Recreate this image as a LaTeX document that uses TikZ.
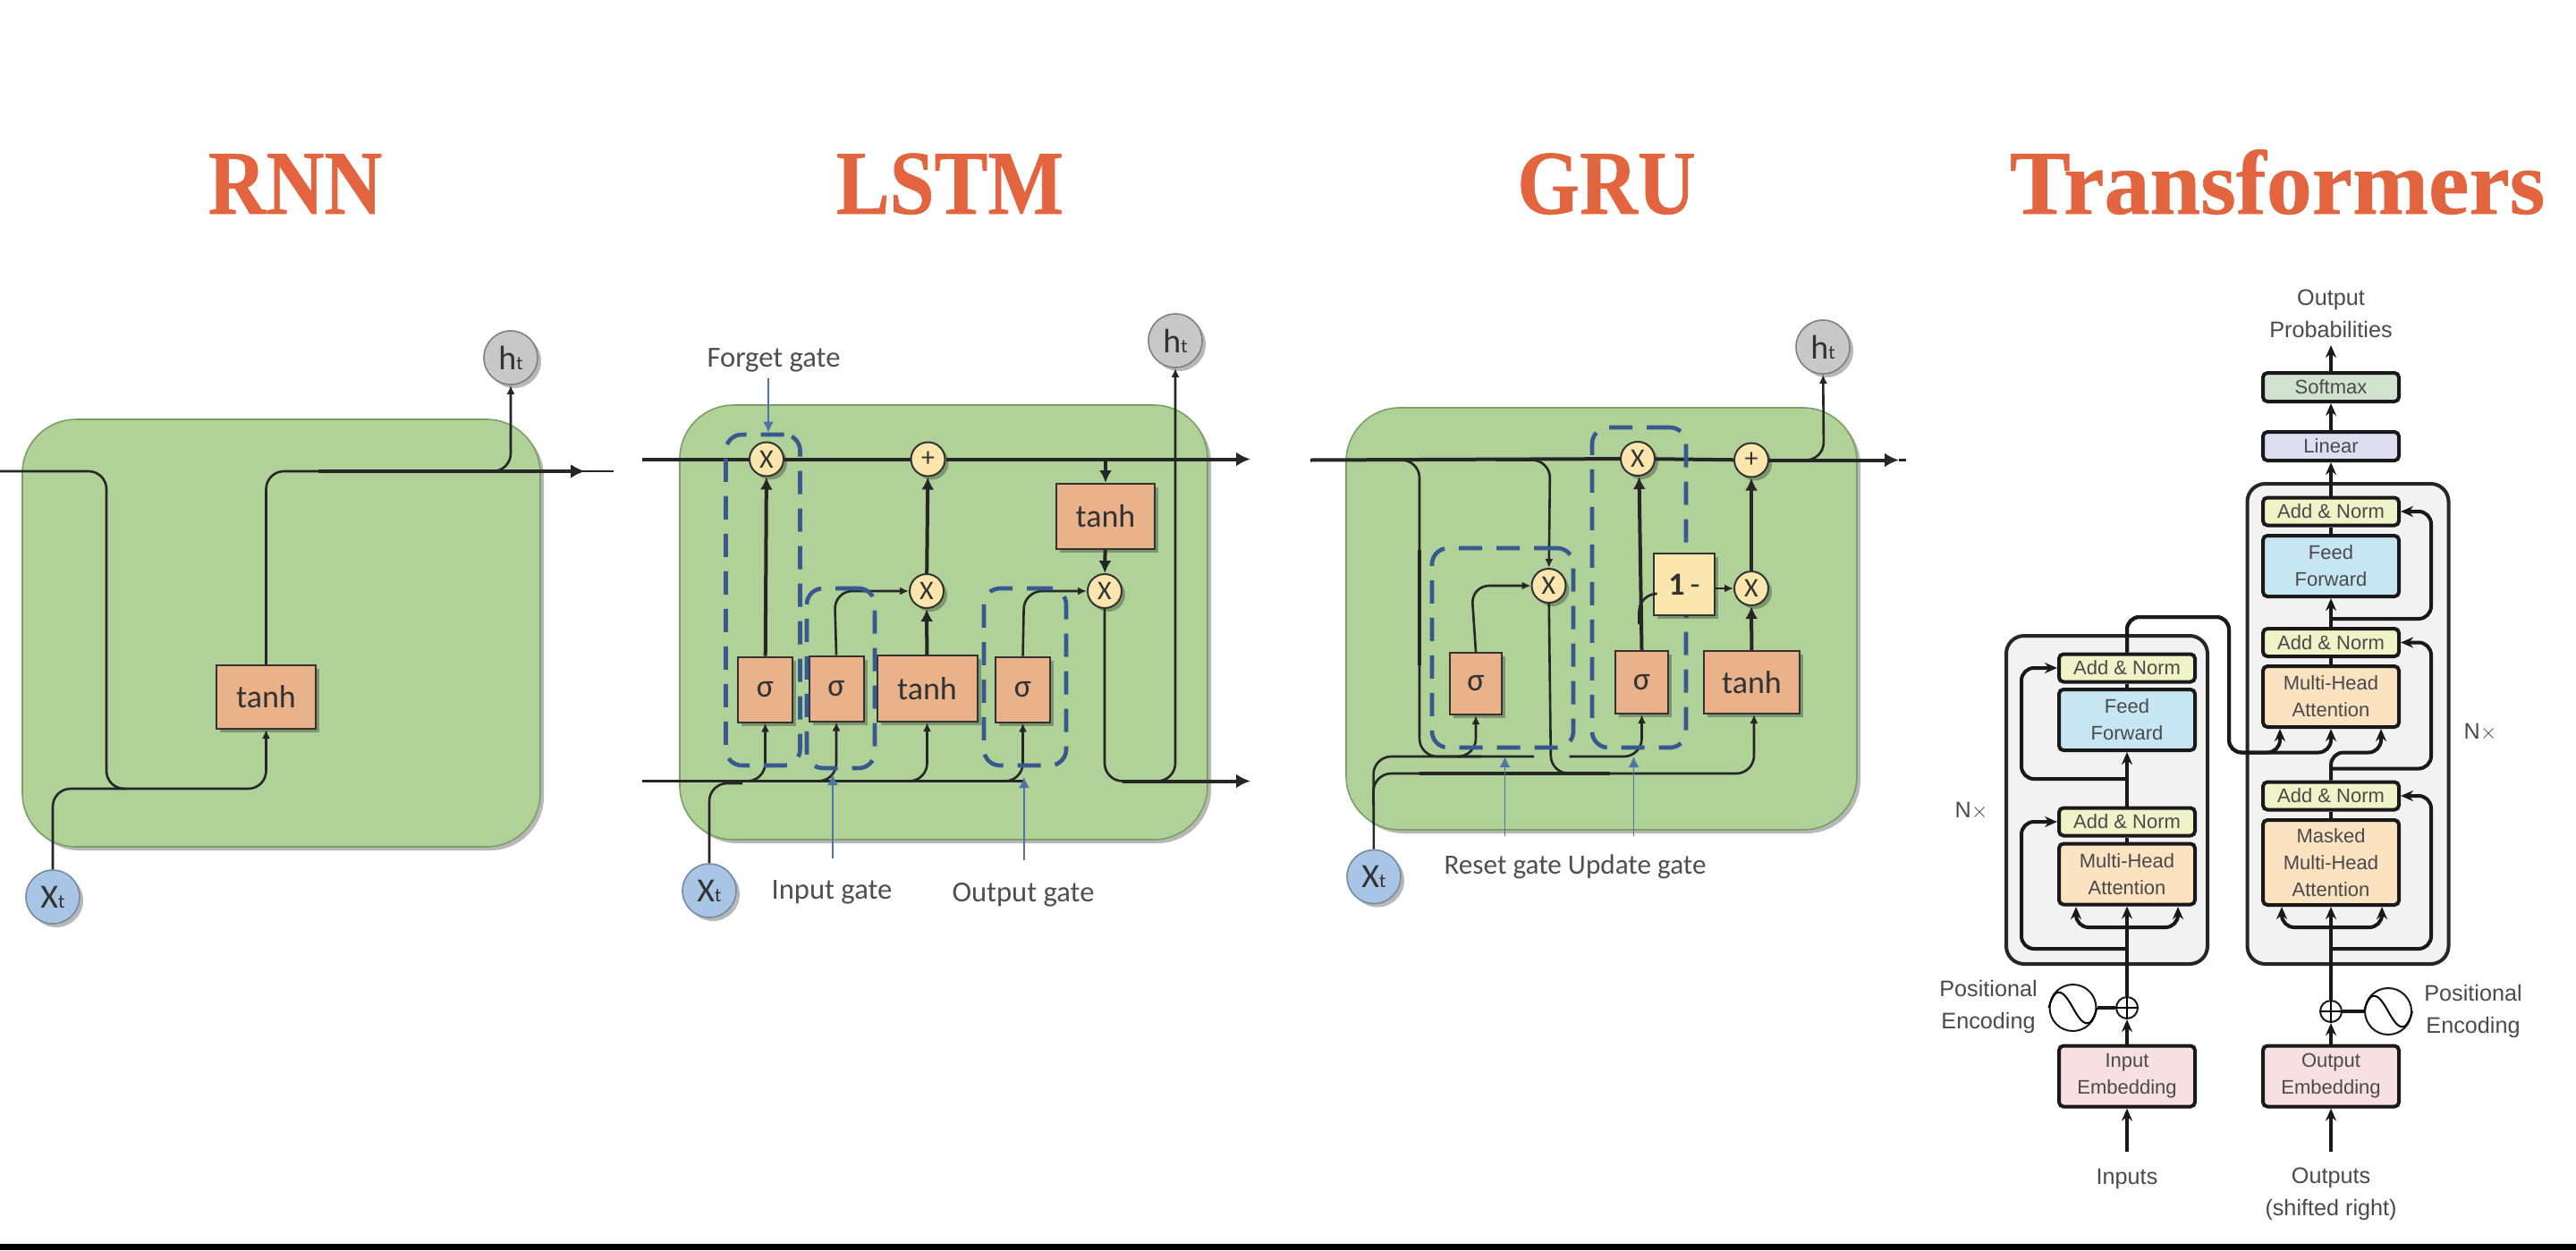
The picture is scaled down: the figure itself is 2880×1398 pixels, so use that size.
\documentclass[tikz,border=0pt]{standalone}
\usepackage{fontspec}
\setmainfont{Carlito}
\newfontfamily\titlefont{Liberation Serif}[FakeBold=.6]
\newfontfamily\capsfont{Liberation Serif}[FakeStretch=.88,FakeBold=.6]
\newfontfamily\tffont{Liberation Sans}
\usetikzlibrary{arrows.meta,shapes.geometric,shadows}
\definecolor{titleRed}{HTML}{E2653F}
\definecolor{cellGreen}{HTML}{B0D198}
\definecolor{cellEdge}{HTML}{7C9F68}
\definecolor{layerOrange}{HTML}{E9B28B}
\definecolor{gateYellow}{HTML}{FBE7AE}
\definecolor{gateBlue}{HTML}{365A8F}
\definecolor{arrowBlue}{HTML}{4C74A6}
\definecolor{inBlue}{HTML}{A9C5E6}
\definecolor{outGray}{HTML}{C8C8C8}
\definecolor{labelGray}{HTML}{4F4F4F}
\definecolor{tfText}{HTML}{4A4A4A}
\definecolor{panelGray}{HTML}{F2F2F2}
\definecolor{addYellow}{HTML}{F0F3C8}
\definecolor{feedBlue}{HTML}{C6E6F3}
\definecolor{attnOrange}{HTML}{FBE2C1}
\definecolor{embedPink}{HTML}{F7DFE2}
\definecolor{softGreen}{HTML}{D1E3CF}
\definecolor{linearBlue}{HTML}{DDDFF0}
\newcommand{\subt}[1]{#1{\fontsize{11}{11}\selectfont t}}
\tikzset{softshadow/.style={drop shadow={shadow xshift=2pt,shadow yshift=-2pt,opacity=.28,fill=black}}}
\tikzset{
    title/.style={font=\capsfont\bfseries\fontsize{51}{51}\selectfont,text=titleRed,anchor=base},
    cell/.style={draw=cellEdge,line width=.8pt,fill=cellGreen,rounded corners=30pt,softshadow},
    layer/.style={draw=black!80,line width=1pt,fill=layerOrange,text=black!80,font=\fontsize{18}{18}\selectfont,inner sep=0pt,softshadow},
    gate/.style={circle,draw=black!80,line width=1pt,fill=gateYellow,text=black!80,font=\fontsize{15}{15}\selectfont,minimum size=19pt,inner sep=0pt,softshadow},
    state/.style={circle,draw=gray,line width=.8pt,minimum size=30pt,inner sep=0pt,text=black!80,font=\fontsize{19}{19}\selectfont,softshadow},
    dashbox/.style={draw=gateBlue,line width=2.3pt,dash pattern=on 13pt off 8pt,rounded corners=9pt,inner sep=0pt},
    gatetext/.style={text=labelGray,font=\fontsize{16.3}{16.3}\selectfont},
    wire/.style={line width=1.3pt,black!85,rounded corners=10pt},
    tip/.style={wire,-{Latex[length=5pt,width=4.5pt]}},
    strong/.style={wire,line width=2pt,-{Latex[length=7pt,width=7pt]}},
    rail/.style={wire,line width=2pt},
    railtip/.style={rail,-{Latex[length=8pt,width=8pt]}},
    point/.style={line width=.8pt,arrowBlue,-{Latex[length=6pt,width=6pt]}},
    tfpanel/.style={draw=black!85,line width=2pt,fill=panelGray,rounded corners=10pt},
    tfbox/.style={draw=black!90,line width=2pt,rounded corners=2.5pt,inner sep=0pt,minimum width=76pt,text=tfText,align=center,font=\tffont\fontsize{11}{15}\selectfont},
    tftext/.style={text=tfText,align=center,font=\tffont\fontsize{12.6}{18}\selectfont},
    tfwire/.style={line width=2pt,black!90,rounded corners=7pt},
    tftip/.style={tfwire,-{Stealth[length=7pt,width=6pt]}},
    addnorm/.style={tfbox,fill=addYellow,minimum height=15.5pt},
    feed/.style={tfbox,fill=feedBlue,minimum height=34pt},
    attention/.style={tfbox,fill=attnOrange,minimum height=34pt},
    embed/.style={tfbox,fill=embedPink,minimum height=34pt},
    sumdot/.style={circle,draw=black!90,line width=1pt,minimum size=12pt,inner sep=0pt},
    wave/.style={circle,draw=black!90,line width=1pt,minimum size=26pt,inner sep=0pt},
}
\begin{document}
\begin{tikzpicture}[x=0.5pt,y=-0.5pt]
\useasboundingbox (0,0) rectangle (2880,1398);
\fill[white] (0,0) rectangle (2880,1398);
\fill[black] (0,1391) rectangle (2880,1398);

\node[title] (rnnTitle) at (330,239) {RNN};
\node[title] (lstmTitle) at (1062,239) {LSTM};
\node[title] (gruTitle) at (1796,239) {GRU};
\node[title,font=\titlefont\bfseries\fontsize{51}{51}\selectfont] (tfTitle) at (2546,239) {Transformers};

\node[cell,minimum width=289.5pt,minimum height=239pt] (rnnCell) at (314.5,708) {};
\node[layer,minimum width=55.5pt,minimum height=35.5pt] (rnnTanh) at (297.5,779.5) {tanh};
\node[state,fill=inBlue,draw=inBlue!70!black] (rnnX) at (59,1003) {\subt{X}};
\node[state,fill=outGray] (rnnH) at (571,400) {\subt{h}};
\coordinate (rnnIn) at (0,527);
\coordinate (rnnOut) at (686,527);
\coordinate (rnnEnd) at (654,527);
\draw[wire] (rnnIn) -- (119,527) -- (119,882) -- (140,882);
\draw[tip] (rnnX) -- (59,882) -- (297.5,882) -- (rnnTanh.south);
\draw[wire] (rnnTanh) -- (297.5,527) -- (360,527);
\draw[wire] (356,527) -- (rnnOut);
\draw[railtip] (356,527) -- (rnnEnd);
\draw[tip] (556,527) -- (571,527) -- (rnnH);

\node[cell,minimum width=295pt,minimum height=243pt] (lstmCell) at (1055,696) {};
\node[layer,minimum width=30.5pt,minimum height=36.5pt] (lstmSigA) at (855.5,771) {σ};
\node[layer,minimum width=30.5pt,minimum height=36.5pt] (lstmSigB) at (935,770) {σ};
\node[layer,minimum width=56pt,minimum height=37pt] (lstmTanhA) at (1036.5,770) {tanh};
\node[layer,minimum width=30.5pt,minimum height=36.5pt] (lstmSigC) at (1143.5,771) {σ};
\node[layer,minimum width=55pt,minimum height=36.5pt] (lstmTanhB) at (1236,577.5) {tanh};
\node[gate] (lstmMulA) at (857,513.5) {X};
\node[gate] (lstmAdd) at (1037.5,513.5) {+};
\node[gate] (lstmMulB) at (1036,661) {X};
\node[gate] (lstmMulC) at (1235,661) {X};
\node[state,fill=inBlue,draw=inBlue!70!black] (lstmX) at (793,996) {\subt{X}};
\node[state,fill=outGray] (lstmH) at (1314,381) {\subt{h}};
\coordinate (lstmInTop) at (718,513.5);
\coordinate (lstmOutTop) at (1398,513.5);
\coordinate (lstmInBot) at (718,873.5);
\coordinate (lstmOutBot) at (1398,873.5);
\draw[rail] (lstmInTop) -- (lstmMulA);
\draw[rail] (lstmMulA) -- (lstmAdd);
\draw[railtip] (lstmAdd) -- (lstmOutTop);
\draw[wire] (lstmInBot) -- (1144,873.5);
\draw[tip] (1100,873.5) -- (1143.5,873.5) -- (lstmSigC.south);
\draw[tip] (820,873.5) -- (855.5,873.5) -- (lstmSigA.south);
\draw[tip] (900,873.5) -- (935,873.5) -- (lstmSigB.south);
\draw[tip] (1000,873.5) -- (1036.5,873.5) -- (lstmTanhA.south);
\draw[wire] (lstmX) -- (793,876) -- (830,876);
\draw[strong] (lstmSigA) -- (lstmMulA);
\draw[strong] (lstmTanhA) -- (lstmMulB);
\draw[strong] (lstmMulB) -- (lstmAdd);
\draw[tip] (lstmSigB.north) -- (933,661) -- (lstmMulB);
\draw[tip] (lstmSigC.north) -- (1145,661) -- (lstmMulC);
\draw[strong] (1236,513.5) -- (lstmTanhB);
\draw[strong] (lstmTanhB) -- (lstmMulC);
\draw[wire] (lstmMulC) -- (1235,873.5) -- (1280,873.5);
\draw[railtip] (1255,873.5) -- (lstmOutBot);
\draw[tip] (1285,873.5) -- (1314,873.5) -- (lstmH);
\node[dashbox,minimum width=41.5pt,minimum height=185pt] (forgetBox) at (853,671) {};
\node[dashbox,minimum width=38pt,minimum height=100.5pt] (inputBox) at (940,758.5) {};
\node[dashbox,minimum width=46pt,minimum height=99pt] (outputBox) at (1146,757) {};
\node[gatetext] (forgetText) at (865,403) {Forget gate};
\node[gatetext] (inputText) at (930,998) {Input gate};
\node[gatetext] (outputText) at (1144,1001) {Output gate};
\draw[point] (859,423) -- (forgetBox.north -| 859,0);
\draw[point] (931,960) -- (931,866);
\draw[point] (1145,962) -- (1145,869);

\node[cell,minimum width=285.5pt,minimum height=236pt] (gruCell) at (1790.5,692) {};
\node[layer,minimum width=29pt,minimum height=34.5pt] (gruSigA) at (1650,764.5) {σ};
\node[layer,minimum width=29.5pt,minimum height=35pt] (gruSigB) at (1835.5,763) {σ};
\node[layer,minimum width=53.5pt,minimum height=35pt] (gruTanh) at (1958.5,763) {tanh};
\node[gate] (gruMulA) at (1731.5,655) {X};
\node[gate] (gruMulB) at (1831,513) {X};
\node[gate] (gruAdd) at (1958,514.5) {+};
\node[gate] (gruMulC) at (1958,658) {X};
\node[state,fill=inBlue,draw=inBlue!70!black] (gruX) at (1536,980.5) {\subt{X}};
\node[state,fill=outGray] (gruH) at (2038,388) {\subt{h}};
\coordinate (gruIn) at (1465,514.5);
\coordinate (gruOut) at (2123,514.5);
\coordinate (gruDash) at (2131,514.5);
\draw[rail] (gruIn) -- (gruMulB);
\draw[rail] (gruMulB) -- (gruAdd);
\draw[railtip] (gruAdd) -- (gruOut);
\draw[wire] (gruOut) -- (gruDash);
\draw[wire] (1566,514.5) -- (1587,514.5) -- (1587,846) -- (1656,846);
\draw[rail] (1587,615) -- (1587,744);
\draw[tip] (1672,514.5) -- (1733,514.5) -- (gruMulA);
\draw[wire] (gruMulA) -- (1734,865) -- (1790,865);
\draw[wire] (gruX) -- (1535.5,846) -- (1715,846);
\draw[wire] (1535.5,900) -- (1535.5,865) -- (1600,865);
\draw[rail] (1587,865) -- (1800,865);
\draw[tip] (1754.5,846) -- (1835.5,846) -- (gruSigB.south);
\draw[tip] (1790,865) -- (1961,865) -- (gruTanh.south -| 1961,0);
\draw[tip] (1630,846) -- (1650,846) -- (gruSigA.south);
\draw[tip] (gruSigA.north) -- (1645,655) -- (gruMulA);
\draw[strong] (gruSigB.north) -- (gruMulB.south -| 1832.5,0);
\draw[strong] (gruTanh) -- (gruMulC);
\draw[strong] (gruMulC) -- (gruAdd);
\draw[tip] (2015,514.5) -- (2039,514.5) -- (gruH);
\node[dashbox,minimum width=79pt,minimum height=111.5pt] (resetBox) at (1680,724.5) {};
\node[dashbox,minimum width=52.5pt,minimum height=179pt] (updateBox) at (1832.5,657) {};
\node[layer,fill=gateYellow,minimum width=34pt,minimum height=34.5pt,font=\fontsize{18}{18}\selectfont\bfseries] (gruOne) at (1883,653.5) {1{\mdseries\,-}};
\draw[wire] (1832.5,698) -- (1832.5,664) -- (gruOne.west |- 0,664);
\draw[tip] (gruOne.east |- 0,658) -- (gruMulC);
\node[gatetext,font=\fontsize{15.6}{15.6}\selectfont] (gruText) at (1761,969) {Reset gate Update gate};
\draw[point] (1682.5,935) -- (1682.5,846);
\draw[point] (1826.5,935) -- (1826.5,846);

\node[tfpanel,minimum width=112.5pt,minimum height=183.5pt] (encPanel) at (2355.5,894.5) {};
\node[tfpanel,minimum width=112.5pt,minimum height=268.5pt] (decPanel) at (2625,809.5) {};
\node[addnorm] (encAddTop) at (2378,747) {Add \& Norm};
\node[feed] (encFeed) at (2378,805) {Feed\\Forward};
\node[addnorm] (encAddLow) at (2378,919) {Add \& Norm};
\node[attention] (encAttn) at (2378,977.5) {Multi-Head\\Attention};
\node[embed] (encEmbed) at (2378,1203.5) {Input\\Embedding};
\node[tfbox,fill=softGreen,minimum height=16pt] (softmax) at (2606,433) {Softmax};
\node[tfbox,fill=linearBlue,minimum height=16pt] (linear) at (2606,499) {Linear};
\node[addnorm] (decAddTop) at (2606,572) {Add \& Norm};
\node[feed] (decFeed) at (2606,633) {Feed\\Forward};
\node[addnorm] (decAddMid) at (2606,718.5) {Add \& Norm};
\node[attention] (decAttn) at (2606,779) {Multi-Head\\Attention};
\node[addnorm] (decAddLow) at (2606,890) {Add \& Norm};
\node[attention,minimum height=47.5pt] (decMask) at (2606,964.5) {Masked\\Multi-Head\\Attention};
\node[embed] (decEmbed) at (2606,1203.5) {Output\\Embedding};
\node[sumdot] (encSum) at (2378,1127) {};
\node[sumdot] (decSum) at (2606,1131) {};
\node[wave] (encWave) at (2317.5,1127) {};
\node[wave] (decWave) at (2670,1131) {};
\node[tftext] (encPos) at (2223,1126) {Positional\\Encoding};
\node[tftext] (decPos) at (2765,1131) {Positional\\Encoding};
\node[tftext] (encN) at (2204,907) {N$\times$};
\node[tftext] (decN) at (2773,819) {N$\times$};
\node[tftext] (inputs) at (2378,1318) {Inputs};
\node[tftext] (outputs) at (2606,1335) {Outputs\\(shifted right)};
\node[tftext] (probs) at (2606,351) {Output\\Probabilities};
\coordinate (inFoot) at (2378,1288);
\coordinate (outFoot) at (2606,1288);
\coordinate (probTip) at (2606,386);
\coordinate (keyTip) at (2549,815);
\coordinate (valTip) at (2606,815);
\coordinate (qryTip) at (2662,815);
\foreach \s in {encSum,decSum} {
    \draw[line width=1pt] (\s.north) -- (\s.south);
    \draw[line width=1pt] (\s.west) -- (\s.east);
}
\foreach \s in {encWave,decWave}
    \draw[line width=1pt] (\s.west) .. controls +(8,-28) and +(-10,-18) .. (\s.center) .. controls +(10,18) and +(-8,28) .. (\s.east);
\draw[tftip] (inFoot) -- (encEmbed);
\draw[tftip] (outFoot) -- (decEmbed);
\draw[tftip] (encEmbed) -- (encSum);
\draw[tftip] (decEmbed) -- (decSum);
\draw[tfwire] (encWave) -- (encSum);
\draw[tfwire] (decWave) -- (decSum);
\draw[tftip] (encSum) -- (encAttn);
\draw[tftip] (decSum) -- (decMask);
\draw[tftip] (2378,1037) -- (2321,1037) -- (2321,1014);
\draw[tftip] (2378,1037) -- (2435,1037) -- (2435,1014);
\draw[tftip] (2606,1037) -- (2551,1037) -- (2551,1014);
\draw[tftip] (2606,1037) -- (2663,1037) -- (2663,1014);
\draw[tftip] (2378,1061) -- (2260,1061) -- (2260,919) -- (encAddLow);
\draw[tftip] (2378,871) -- (2260,871) -- (2260,747) -- (encAddTop);
\draw[tfwire] (encAttn) -- (encAddLow);
\draw[tfwire] (encFeed) -- (encAddTop);
\draw[tftip] (encAddLow) -- (encFeed);
\draw[tftip] (encAddTop) -- (2378,690) -- (2492,690) -- (2492,841.5) -- (2549,841.5) -- (keyTip);
\draw[tftip] (encAddTop) -- (2378,690) -- (2492,690) -- (2492,841.5) -- (2606,841.5) -- (valTip);
\draw[tftip] (decAddLow) -- (2606,841.5) -- (2662,841.5) -- (qryTip);
\draw[tfwire] (decMask) -- (decAddLow);
\draw[tfwire] (decAttn) -- (decAddMid);
\draw[tfwire] (decFeed) -- (decAddTop);
\draw[tftip] (decAddMid) -- (decFeed);
\draw[tftip] (2606,1061) -- (2718,1061) -- (2718,890) -- (decAddLow);
\draw[tftip] (2606,859.5) -- (2718,859.5) -- (2718,718.5) -- (decAddMid);
\draw[tftip] (2606,692) -- (2718,692) -- (2718,572) -- (decAddTop);
\draw[tftip] (decAddTop) -- (linear);
\draw[tftip] (linear) -- (softmax);
\draw[tftip] (softmax) -- (probTip);
\end{tikzpicture}
\end{document}
